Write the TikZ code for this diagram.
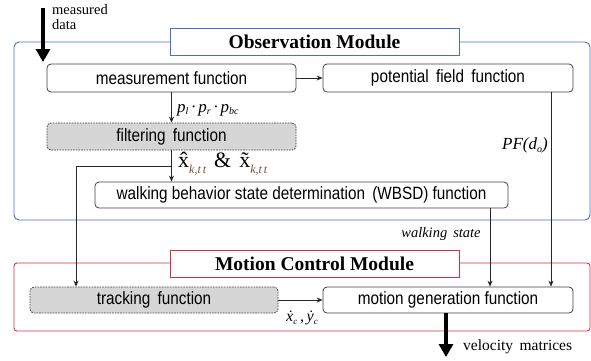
\documentclass[tikz,border=0pt]{standalone}
\usepackage{fontspec}
\setmainfont{Liberation Serif}
\newfontfamily\boxfont[FakeStretch=0.86]{Liberation Sans}
\usetikzlibrary{arrows.meta}

\definecolor{obsblue}{RGB}{72,110,200}
\definecolor{motred}{RGB}{215,45,70}
\definecolor{fillgray}{RGB}{214,214,214}
\definecolor{subbrown}{RGB}{120,75,65}

\tikzset{
  func/.style={draw=black!75, rounded corners=4pt, fill=white, line width=0.8pt,
    inner sep=0pt, font=\boxfont\fontsize{17.8}{20}\selectfont},
  dashfunc/.style={func, fill=fillgray, dash pattern=on 1.6pt off 1.1pt},
  modtitle/.style={fill=white, line width=0.9pt, inner sep=0pt,
    minimum width=289pt, minimum height=27pt,
    font=\bfseries\fontsize{19.5}{22}\selectfont},
  conn/.style={draw=black!85, line width=0.8pt, -{Stealth[length=6pt,width=5pt]}},
  bigarrow/.style={line width=4pt, -{Triangle[length=13pt,width=14pt]}},
  lbl/.style={inner sep=0pt},
}

\begin{document}
\begin{tikzpicture}[x=1pt,y=-1pt]
\useasboundingbox (0,0) rectangle (591,360);

% module frames
\draw[obsblue, line width=0.9pt, rounded corners=5pt] (14,42) rectangle (590,220);
\draw[motred, line width=0.9pt, rounded corners=3pt] (14,263) rectangle (590,331);
\node[modtitle, draw=obsblue] (obsT) at (314.5,41.5) {Observation Module};
\node[modtitle, draw=motred] (motT) at (314.5,263.5) {Motion Control Module};

% function blocks
\node[func, minimum width=249pt, minimum height=28pt] (meas) at (171.5,78) {measurement function};
\node[func, minimum width=250pt, minimum height=28pt] (pot) at (448,78) {potential\, field\, function};
\node[dashfunc, minimum width=249pt, minimum height=27pt] (filt) at (171.5,136.5) {filtering\, function};
\node[func, minimum width=413pt, minimum height=26pt] (wbsd) at (301.5,195) {walking behavior state determination\, (WBSD) function};
\node[dashfunc, minimum width=248pt, minimum height=26pt] (track) at (154,300) {tracking\, function};
\node[func, minimum width=250pt, minimum height=26pt] (motion) at (448,300) {motion generation function};

% input and output
\coordinate (inTop) at (43,8);
\coordinate (inTip) at (43,62);
\draw[bigarrow] (inTop) -- (inTip);
\node[lbl, anchor=north west, font=\fontsize{14.5}{14}\selectfont] (mdata1) at (52,4) {measured};
\node[lbl, anchor=north west, font=\fontsize{14.5}{14}\selectfont] (mdata2) at (52,19) {data};

\coordinate (outTip) at (446,357);
\draw[bigarrow] (motion.south -| outTip) -- (outTip);
\node[lbl, anchor=west, font=\fontsize{15.5}{18}\selectfont] (vel) at (463,347) {velocity\, matrices};

% connectors
\draw[conn] (meas.east) -- (pot.west);
\draw[conn] (meas.south) -- (filt.north);
\draw[conn] (filt.south) -- (filt.south |- wbsd.north);
\coordinate (branch) at (171.5,166);
\coordinate (trackIn) at (76,166);
\draw[conn] (branch) -- (trackIn) -- (trackIn |- track.north);
\coordinate (pfx) at (551,0);
\draw[conn] (pot.south -| pfx) -- (motion.north -| pfx);
\coordinate (wsx) at (490,0);
\draw[conn] (wbsd.south -| wsx) -- (motion.north -| wsx);
\draw[conn] (track.east) -- (motion.west);

% signal labels
\node[lbl, anchor=west, font=\itshape\fontsize{17}{20}\selectfont] (plab) at (177,110)
  {p\raisebox{-0.35ex}{\fontsize{10}{12}\selectfont l}\,·\,p\raisebox{-0.35ex}{\fontsize{10}{12}\selectfont r}\,·\,p\raisebox{-0.35ex}{\fontsize{10}{12}\selectfont bc}};
\node[lbl, anchor=west, font=\fontsize{22}{24}\selectfont] (xlab) at (178,164)
  {\^{x}\raisebox{-0.55ex}{\color{subbrown}\itshape\fontsize{12}{14}\selectfont k,t\,t}\hspace{8pt}\&\hspace{8pt}\~{x}\raisebox{-0.55ex}{\color{subbrown}\itshape\fontsize{12}{14}\selectfont k,t\,t}};
\node[lbl, anchor=center, font=\itshape\fontsize{17}{20}\selectfont] (pflab) at (525,145)
  {PF(d\raisebox{-0.4ex}{\fontsize{10}{12}\selectfont o})};
\node[lbl, anchor=center, font=\itshape\fontsize{14.5}{16}\selectfont] (wslab) at (441,234) {walking\, state};
\node[lbl, anchor=center, font=\itshape\fontsize{16}{18}\selectfont] (vlab) at (302,318)
  {\.{x}\raisebox{-0.4ex}{\fontsize{9}{10}\selectfont c}\,,\,\.{y}\raisebox{-0.4ex}{\fontsize{9}{10}\selectfont c}};
\end{tikzpicture}
\end{document}
